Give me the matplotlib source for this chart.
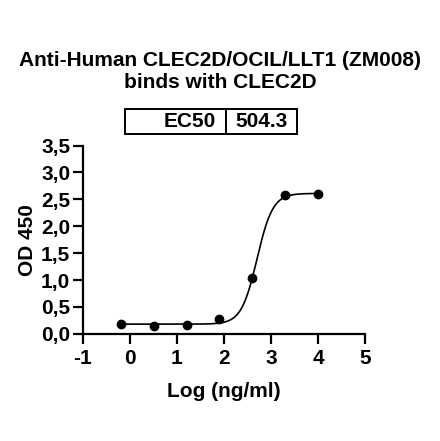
import numpy as np
import matplotlib
matplotlib.use('Agg')
import matplotlib.pyplot as plt
from matplotlib.ticker import FuncFormatter

plt.rcParams['font.family'] = ['Liberation Sans', 'DejaVu Sans']
plt.rcParams['font.weight'] = 'bold'

# data (log10 ng/ml, OD 450)
log_conc = [-0.19, 0.51, 1.21, 1.90, 2.60, 3.30, 4.00]
od450 = [0.19, 0.14, 0.17, 0.28, 1.04, 2.58, 2.60]

# 4PL fit parameters
fit_bottom = 0.18
fit_top = 2.61
ec50 = 504.3
hill = 2.6

x_ticks = [-1, 0, 1, 2, 3, 4, 5]
y_ticks = [0.0, 0.5, 1.0, 1.5, 2.0, 2.5, 3.0, 3.5]
title = 'Anti-Human CLEC2D/OCIL/LLT1 (ZM008)\nbinds with CLEC2D'


def four_pl(x):
    return fit_bottom + (fit_top - fit_bottom) / (1 + 10 ** ((np.log10(ec50) - x) * hill))


fig = plt.figure(figsize=(4.4, 4.41), dpi=100)
ax = fig.add_axes([0.188, 0.243, 0.642, 0.427])

xs = np.linspace(min(log_conc), max(log_conc), 300)
ax.plot(xs, four_pl(xs), color='black', lw=1.2)
ax.plot(log_conc, od450, 'o', color='black', ms=6)

ax.set_xlim(-1, 5)
ax.set_ylim(0, 3.5)
ax.set_xticks(x_ticks)
ax.set_yticks(y_ticks)
ax.yaxis.set_major_formatter(FuncFormatter(lambda v, p: f'{v:.1f}'.replace('.', ',')))
ax.xaxis.set_major_formatter(FuncFormatter(lambda v, p: f'{int(v)}'))

for s in ['top', 'right']:
    ax.spines[s].set_visible(False)
for s in ['left', 'bottom']:
    ax.spines[s].set_linewidth(1.6)
ax.tick_params(direction='out', length=7, width=1.6, labelsize=15)
ax.tick_params(axis='x', pad=4)
ax.tick_params(axis='y', pad=2)
for lbl in ax.get_xticklabels() + ax.get_yticklabels():
    lbl.set_fontweight('bold')

ax.set_xlabel('Log (ng/ml)', fontsize=15, fontweight='bold', labelpad=10)
ax.set_ylabel('OD 450', fontsize=15, fontweight='bold', labelpad=3)

fig.text(0.5, 0.837, title, ha='center', va='center', fontsize=15, fontweight='bold',
         linespacing=1.2)

# EC50 box
tab = ax.table(cellText=[['EC50', f'{ec50:.1f}']], colWidths=[0.53, 0.37],
               cellLoc='right', bbox=[0.149, 1.062, 0.609, 0.133])
tab.auto_set_font_size(False)
for (r, c), cell in tab.get_celld().items():
    cell.set_linewidth(1.4)
    cell.get_text().set_fontsize(15)
    cell.get_text().set_fontweight('bold')
    if c == 1:
        cell.get_text().set_ha('center')
        cell._loc = 'center'

fig.savefig('out.png', dpi=100)
